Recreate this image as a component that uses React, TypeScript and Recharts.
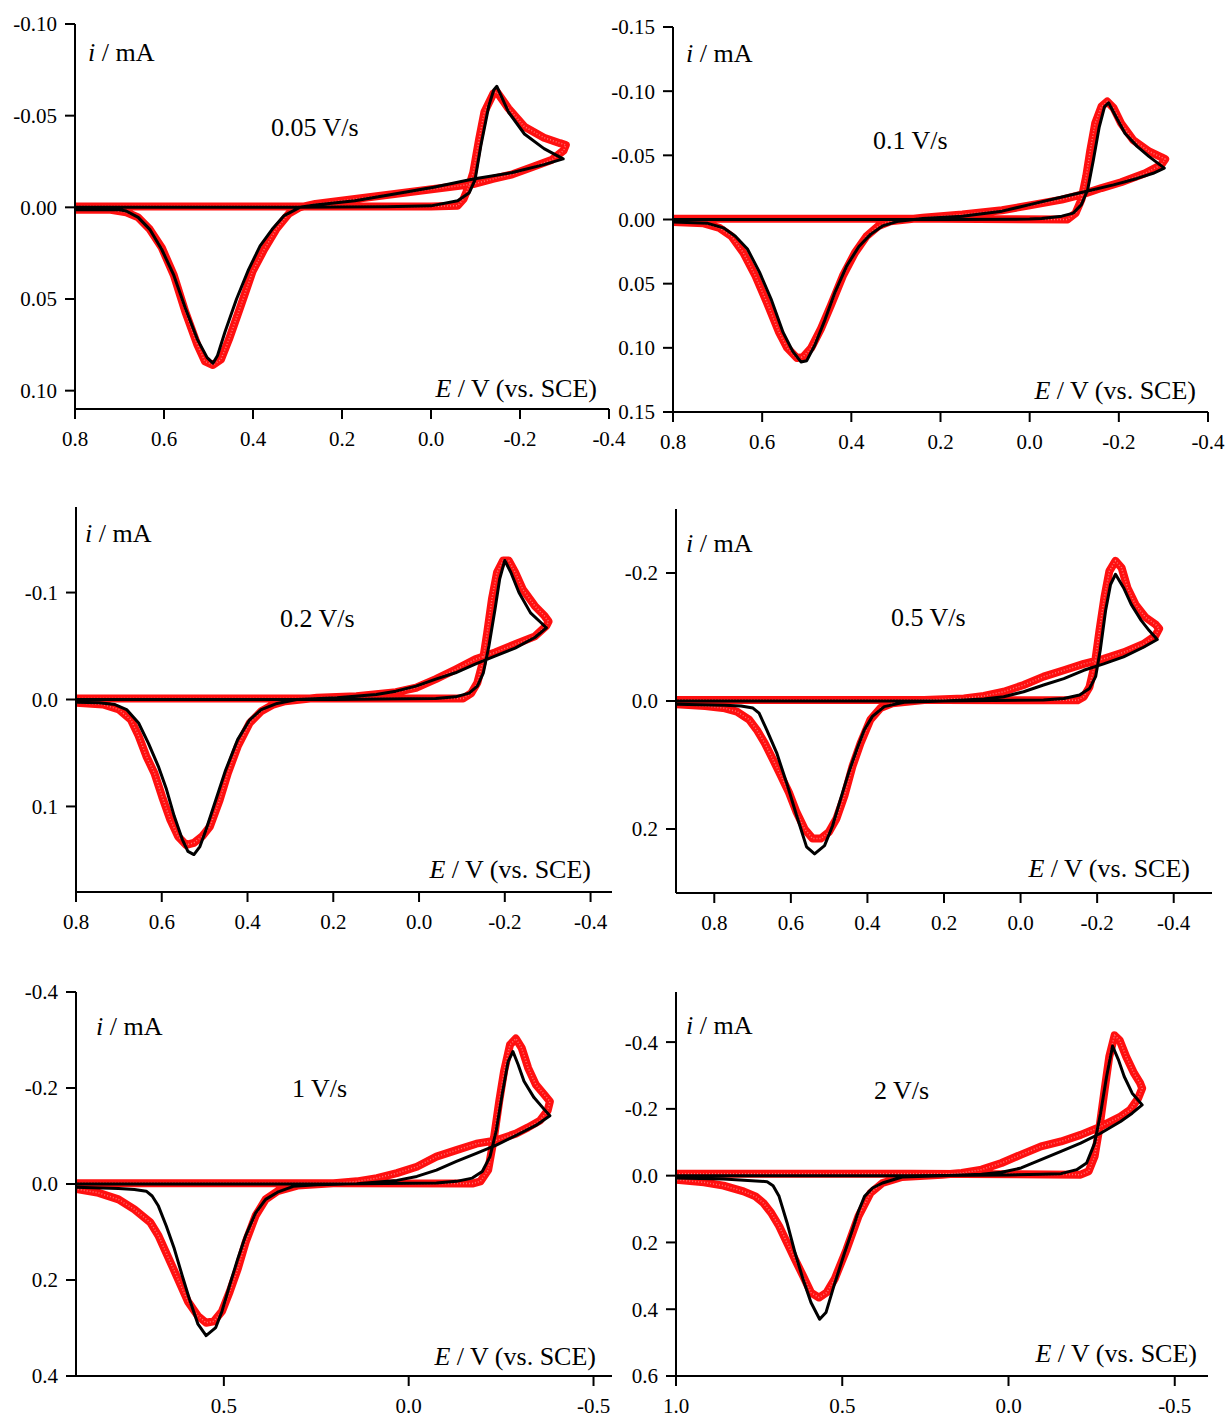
import React from "react";
import { ComposedChart, Line, XAxis, YAxis } from "recharts";

type Pair = [number, number];

// [E / V, i / mA]; each loop runs cathodic sweep then back
const sim005: Pair[] = [
  [0.8, 0], [0.3, 0], [0.1, -0.0003], [0.0, -0.0008], [-0.06, -0.0036], [-0.086, -0.008],
  [-0.099, -0.015], [-0.112, -0.0336], [-0.13, -0.0555], [-0.141, -0.064], [-0.148, -0.066],
  [-0.174, -0.052], [-0.21, -0.04], [-0.254, -0.032], [-0.297, -0.0264], [-0.254, -0.0233],
  [-0.183, -0.019], [-0.095, -0.0155], [-0.006, -0.011], [0.082, -0.0073], [0.171, -0.0036],
  [0.26, -0.0013], [0.295, 0], [0.33, 0.0045], [0.357, 0.012], [0.384, 0.021], [0.41, 0.034],
  [0.437, 0.05], [0.463, 0.068], [0.48, 0.081], [0.49, 0.085], [0.503, 0.082], [0.525, 0.072],
  [0.552, 0.055], [0.578, 0.037], [0.605, 0.023], [0.632, 0.012], [0.658, 0.0055], [0.685, 0.002],
  [0.7, 0.0013], [0.8, 0.0013],
];
const exp005: Pair[] = [
  [0.8, -0.0005], [0.3, -0.0005], [0.0, -0.0005], [-0.06, -0.0009], [-0.073, -0.0045],
  [-0.086, -0.012], [-0.095, -0.019], [-0.108, -0.037], [-0.12, -0.052], [-0.14, -0.062],
  [-0.148, -0.063], [-0.174, -0.054], [-0.21, -0.044], [-0.254, -0.038], [-0.29, -0.035],
  [-0.303, -0.034], [-0.298, -0.031], [-0.272, -0.026], [-0.228, -0.022], [-0.183, -0.018],
  [-0.139, -0.0155], [-0.095, -0.0127], [-0.006, -0.01], [0.082, -0.0073], [0.171, -0.0045],
  [0.26, -0.0018], [0.295, 0], [0.32, 0.0036], [0.348, 0.012], [0.375, 0.023], [0.401, 0.035],
  [0.428, 0.054], [0.454, 0.072], [0.472, 0.083], [0.49, 0.086], [0.508, 0.084], [0.525, 0.075],
  [0.552, 0.057], [0.578, 0.037], [0.605, 0.022], [0.632, 0.012], [0.658, 0.0055], [0.685, 0.0027],
  [0.72, 0.0013], [0.8, 0.0013],
];

const sim01: Pair[] = [
  [0.8, 0], [0.2, 0], [0.0, -0.0003], [-0.027, -0.0008], [-0.072, -0.0026], [-0.098, -0.005],
  [-0.116, -0.0116], [-0.13, -0.023], [-0.143, -0.0465], [-0.156, -0.072], [-0.168, -0.088],
  [-0.177, -0.091], [-0.192, -0.081], [-0.214, -0.067], [-0.241, -0.057], [-0.268, -0.049],
  [-0.302, -0.04], [-0.277, -0.036], [-0.241, -0.032], [-0.188, -0.027], [-0.116, -0.021],
  [-0.063, -0.0168], [0.0, -0.0116], [0.062, -0.0065], [0.151, -0.0026], [0.24, -0.0008],
  [0.294, 0.0013], [0.33, 0.005], [0.357, 0.0116], [0.383, 0.021], [0.41, 0.036], [0.437, 0.057],
  [0.459, 0.078], [0.482, 0.098], [0.5, 0.11], [0.513, 0.111], [0.531, 0.103], [0.553, 0.088],
  [0.58, 0.062], [0.606, 0.041], [0.633, 0.023], [0.66, 0.013], [0.687, 0.0065], [0.722, 0.003],
  [0.8, 0.002],
];
const exp01: Pair[] = [
  [0.8, -0.0005], [0.2, -0.0005], [-0.085, 0], [-0.103, -0.005], [-0.116, -0.0155],
  [-0.127, -0.034], [-0.136, -0.054], [-0.147, -0.075], [-0.161, -0.088], [-0.174, -0.092],
  [-0.188, -0.087], [-0.205, -0.075], [-0.232, -0.062], [-0.268, -0.053], [-0.295, -0.0486],
  [-0.304, -0.047], [-0.295, -0.0426], [-0.259, -0.036], [-0.205, -0.029], [-0.161, -0.0245],
  [-0.116, -0.0194], [-0.072, -0.0155], [0.0, -0.011], [0.062, -0.0072], [0.151, -0.0039],
  [0.24, -0.0013], [0.312, 0.0013], [0.339, 0.005], [0.366, 0.013], [0.392, 0.026], [0.419, 0.044],
  [0.446, 0.067], [0.468, 0.085], [0.49, 0.1], [0.508, 0.107], [0.522, 0.108], [0.544, 0.1],
  [0.562, 0.088], [0.589, 0.065], [0.615, 0.044], [0.642, 0.026], [0.669, 0.013], [0.696, 0.0065],
  [0.731, 0.003], [0.8, 0.002],
];

const sim02: Pair[] = [
  [0.8, 0], [0.2, 0], [-0.039, -0.001], [-0.085, -0.0025], [-0.117, -0.006], [-0.136, -0.0125],
  [-0.15, -0.025], [-0.163, -0.05], [-0.177, -0.084], [-0.188, -0.1125], [-0.2, -0.13],
  [-0.214, -0.119], [-0.233, -0.1], [-0.26, -0.081], [-0.284, -0.072], [-0.297, -0.067],
  [-0.27, -0.058], [-0.224, -0.048], [-0.177, -0.0406], [-0.131, -0.033], [-0.085, -0.025],
  [-0.039, -0.019], [0.007, -0.0125], [0.054, -0.0078], [0.1, -0.0047], [0.192, -0.0016],
  [0.285, 0], [0.331, 0.0037], [0.368, 0.0094], [0.395, 0.019], [0.423, 0.0375], [0.451, 0.066],
  [0.474, 0.094], [0.497, 0.122], [0.511, 0.1375], [0.525, 0.145], [0.539, 0.142], [0.552, 0.131],
  [0.571, 0.109], [0.589, 0.084], [0.608, 0.0625], [0.631, 0.041], [0.654, 0.022], [0.682, 0.0094],
  [0.709, 0.0047], [0.746, 0.003], [0.8, 0.0025],
];
const exp02: Pair[] = [
  [0.8, -0.001], [0.2, -0.001], [-0.103, -0.001], [-0.122, -0.006], [-0.136, -0.0156],
  [-0.148, -0.034], [-0.159, -0.0625], [-0.17, -0.094], [-0.182, -0.119], [-0.196, -0.13],
  [-0.209, -0.13], [-0.224, -0.119], [-0.242, -0.103], [-0.27, -0.0875], [-0.293, -0.078],
  [-0.302, -0.073], [-0.297, -0.069], [-0.27, -0.059], [-0.224, -0.0516], [-0.177, -0.044],
  [-0.131, -0.0375], [-0.085, -0.028], [-0.039, -0.019], [0.007, -0.011], [0.054, -0.0069],
  [0.146, -0.0031], [0.238, -0.0016], [0.312, 0.0016], [0.34, 0.0047], [0.368, 0.011],
  [0.395, 0.022], [0.423, 0.044], [0.446, 0.069], [0.465, 0.094], [0.488, 0.119], [0.506, 0.128],
  [0.525, 0.134], [0.543, 0.136], [0.562, 0.128], [0.58, 0.1125], [0.599, 0.091], [0.617, 0.069],
  [0.636, 0.053], [0.654, 0.034], [0.672, 0.019], [0.7, 0.0094], [0.737, 0.0047], [0.8, 0.003],
];

const sim05: Pair[] = [
  [0.9, 0], [0.2, 0], [-0.06, -0.0015], [-0.113, -0.004], [-0.154, -0.0093], [-0.18, -0.0196],
  [-0.196, -0.038], [-0.208, -0.079], [-0.222, -0.141], [-0.235, -0.182], [-0.248, -0.198],
  [-0.269, -0.177], [-0.289, -0.151], [-0.315, -0.126], [-0.336, -0.11], [-0.357, -0.096],
  [-0.321, -0.084], [-0.269, -0.069], [-0.217, -0.058], [-0.165, -0.048], [-0.113, -0.035],
  [-0.06, -0.025], [-0.008, -0.0145], [0.044, -0.0067], [0.096, -0.003], [0.2, 0], [0.304, 0.002],
  [0.356, 0.0088], [0.387, 0.024], [0.408, 0.045], [0.428, 0.076], [0.449, 0.112], [0.47, 0.153],
  [0.491, 0.195], [0.512, 0.226], [0.538, 0.239], [0.559, 0.228], [0.585, 0.179], [0.611, 0.128],
  [0.637, 0.081], [0.663, 0.045], [0.683, 0.019], [0.699, 0.011], [0.73, 0.0078], [0.772, 0.0067],
  [0.9, 0.005],
];
const exp05: Pair[] = [
  [0.9, -0.0015], [0.2, -0.0015], [-0.149, -0.001], [-0.165, -0.0067], [-0.18, -0.022],
  [-0.194, -0.058], [-0.206, -0.11], [-0.219, -0.162], [-0.232, -0.203], [-0.248, -0.219],
  [-0.264, -0.208], [-0.279, -0.177], [-0.3, -0.151], [-0.326, -0.131], [-0.352, -0.12],
  [-0.362, -0.113], [-0.352, -0.102], [-0.321, -0.089], [-0.269, -0.076], [-0.217, -0.066],
  [-0.165, -0.058], [-0.113, -0.048], [-0.06, -0.038], [-0.008, -0.025], [0.044, -0.0145],
  [0.096, -0.0078], [0.148, -0.004], [0.252, -0.0016], [0.335, 0.0036], [0.366, 0.011],
  [0.392, 0.029], [0.418, 0.066], [0.439, 0.102], [0.46, 0.148], [0.481, 0.184], [0.501, 0.205],
  [0.522, 0.215], [0.543, 0.215], [0.564, 0.2], [0.585, 0.174], [0.605, 0.143], [0.626, 0.117],
  [0.647, 0.091], [0.668, 0.066], [0.689, 0.045], [0.709, 0.029], [0.741, 0.0165], [0.772, 0.0114],
  [0.824, 0.0078], [0.9, 0.005],
];

const sim1: Pair[] = [
  [0.9, 0], [0.2, 0], [-0.075, -0.002], [-0.129, -0.0055], [-0.172, -0.0123], [-0.199, -0.026],
  [-0.22, -0.057], [-0.237, -0.112], [-0.253, -0.187], [-0.269, -0.255], [-0.282, -0.276],
  [-0.296, -0.249], [-0.312, -0.214], [-0.339, -0.18], [-0.366, -0.156], [-0.382, -0.142],
  [-0.344, -0.122], [-0.29, -0.101], [-0.237, -0.081], [-0.183, -0.064], [-0.129, -0.047],
  [-0.075, -0.029], [-0.022, -0.0158], [0.032, -0.0075], [0.14, -0.0007], [0.247, 0.0014],
  [0.312, 0.0048], [0.355, 0.017], [0.387, 0.032], [0.414, 0.06], [0.441, 0.1075], [0.462, 0.155],
  [0.484, 0.21], [0.505, 0.265], [0.522, 0.299], [0.548, 0.316], [0.57, 0.292], [0.591, 0.245],
  [0.613, 0.19], [0.634, 0.135], [0.656, 0.087], [0.677, 0.046], [0.694, 0.025], [0.71, 0.015],
  [0.742, 0.0116], [0.785, 0.0096], [0.9, 0.0068],
];
const exp1: Pair[] = [
  [0.9, -0.0015], [0.2, -0.0015], [-0.172, -0.001], [-0.194, -0.0055], [-0.215, -0.029],
  [-0.231, -0.098], [-0.245, -0.173], [-0.258, -0.235], [-0.274, -0.29], [-0.29, -0.303],
  [-0.306, -0.283], [-0.323, -0.242], [-0.344, -0.207], [-0.366, -0.187], [-0.382, -0.172],
  [-0.376, -0.153], [-0.355, -0.132], [-0.323, -0.118], [-0.29, -0.105], [-0.237, -0.091],
  [-0.183, -0.084], [-0.129, -0.0705], [-0.075, -0.057], [-0.022, -0.036], [0.032, -0.0226],
  [0.086, -0.0123], [0.14, -0.0055], [0.194, -0.002], [0.301, 0.0034], [0.355, 0.015],
  [0.387, 0.032], [0.414, 0.066], [0.441, 0.121], [0.462, 0.176], [0.484, 0.224], [0.505, 0.265],
  [0.527, 0.286], [0.548, 0.289], [0.57, 0.275], [0.597, 0.245], [0.637, 0.176], [0.677, 0.1075],
  [0.699, 0.08], [0.742, 0.053], [0.785, 0.032], [0.839, 0.0185], [0.9, 0.0103],
];

const sim2: Pair[] = [
  [1.0, 0], [0.3, 0], [0.0, -0.002], [-0.1, -0.004], [-0.158, -0.006], [-0.205, -0.018],
  [-0.235, -0.038], [-0.259, -0.0975], [-0.277, -0.187], [-0.295, -0.297], [-0.313, -0.388],
  [-0.331, -0.346], [-0.348, -0.297], [-0.372, -0.247], [-0.402, -0.212], [-0.372, -0.187],
  [-0.337, -0.162], [-0.277, -0.127], [-0.217, -0.0975], [-0.158, -0.0726], [-0.098, -0.048],
  [-0.038, -0.023], [0.021, -0.01], [0.081, -0.004], [0.2, 0], [0.32, 0.004], [0.379, 0.022],
  [0.409, 0.037], [0.433, 0.062], [0.451, 0.106], [0.469, 0.161], [0.493, 0.231], [0.525, 0.33],
  [0.549, 0.41], [0.568, 0.43], [0.594, 0.38], [0.618, 0.31], [0.642, 0.231], [0.666, 0.141],
  [0.69, 0.062], [0.708, 0.03], [0.726, 0.018], [0.857, 0.01], [1.0, 0.007],
];
const exp2: Pair[] = [
  [1.0, -0.006], [0.3, -0.006], [-0.217, -0.003], [-0.241, -0.013], [-0.259, -0.058],
  [-0.274, -0.147], [-0.289, -0.257], [-0.303, -0.356], [-0.319, -0.42], [-0.334, -0.406],
  [-0.354, -0.356], [-0.378, -0.306], [-0.396, -0.277], [-0.402, -0.262], [-0.39, -0.232],
  [-0.366, -0.197], [-0.337, -0.177], [-0.277, -0.147], [-0.217, -0.122], [-0.158, -0.1025],
  [-0.098, -0.0876], [-0.038, -0.063], [0.021, -0.038], [0.081, -0.018], [0.141, -0.008],
  [0.2, -0.003], [0.32, 0.004], [0.379, 0.022], [0.415, 0.052], [0.451, 0.121], [0.487, 0.221],
  [0.523, 0.31], [0.547, 0.35], [0.57, 0.365], [0.594, 0.35], [0.618, 0.3], [0.642, 0.251],
  [0.666, 0.201], [0.69, 0.151], [0.714, 0.111], [0.737, 0.082], [0.761, 0.062], [0.797, 0.047],
  [0.857, 0.03], [0.916, 0.02], [1.0, 0.012],
];

const rateLabels = ["0.05 V/s", "0.1 V/s", "0.2 V/s", "0.5 V/s", "1 V/s", "2 V/s"];

const xTicksA = [0.8, 0.6, 0.4, 0.2, 0.0, -0.2, -0.4];
const xTicks1 = [0.5, 0.0, -0.5];
const xTicks2 = [1.0, 0.5, 0.0, -0.5];
const yTicks005 = [-0.1, -0.05, 0, 0.05, 0.1];
const yTicks01 = [-0.15, -0.1, -0.05, 0, 0.05, 0.1, 0.15];
const yTicks02 = [-0.1, 0, 0.1];
const yTicks05 = [-0.2, 0, 0.2];
const yTicks1 = [-0.4, -0.2, 0, 0.2, 0.4];
const yTicks2 = [-0.4, -0.2, 0, 0.2, 0.4, 0.6];

const FONT = "'Liberation Serif', 'Times New Roman', serif";
const YW = 70;
const MT = 20;
const MR = 25;
const XH = 45;

type Spec = {
  box: [number, number, number, number]; // plot left, top, right, bottom on the page
  xDomain: [number, number];
  yDomain: [number, number];
  xTicks: number[];
  yTicks: number[];
  xDigits: number;
  yDigits: number;
  sim: Pair[];
  exp: Pair[];
  rate: string;
  iPos: [number, number];
  ratePos: [number, number];
  ePos: [number, number]; // right edge, top
};

const panels: Spec[] = [
  {
    box: [75, 24, 609, 409], xDomain: [-0.4, 0.8], yDomain: [-0.1, 0.11],
    xTicks: xTicksA, yTicks: yTicks005, xDigits: 1, yDigits: 2, sim: sim005, exp: exp005,
    rate: rateLabels[0], iPos: [88, 40], ratePos: [271, 115], ePos: [597, 376],
  },
  {
    box: [673, 27, 1208, 412], xDomain: [-0.4, 0.8], yDomain: [-0.15, 0.15],
    xTicks: xTicksA, yTicks: yTicks01, xDigits: 1, yDigits: 2, sim: sim01, exp: exp01,
    rate: rateLabels[1], iPos: [686, 41], ratePos: [873, 128], ePos: [1196, 378],
  },
  {
    box: [76, 507, 612, 892], xDomain: [-0.45, 0.8], yDomain: [-0.18, 0.18],
    xTicks: xTicksA, yTicks: yTicks02, xDigits: 1, yDigits: 1, sim: sim02, exp: exp02,
    rate: rateLabels[2], iPos: [85, 521], ratePos: [280, 606], ePos: [591, 857],
  },
  {
    box: [676, 509, 1212, 893], xDomain: [-0.5, 0.9], yDomain: [-0.3, 0.3],
    xTicks: xTicksA, yTicks: yTicks05, xDigits: 1, yDigits: 1, sim: sim05, exp: exp05,
    rate: rateLabels[3], iPos: [686, 531], ratePos: [891, 605], ePos: [1190, 856],
  },
  {
    box: [76, 992, 612, 1376], xDomain: [-0.55, 0.9], yDomain: [-0.4, 0.4],
    xTicks: xTicks1, yTicks: yTicks1, xDigits: 1, yDigits: 1, sim: sim1, exp: exp1,
    rate: rateLabels[4], iPos: [96, 1014], ratePos: [292, 1076], ePos: [596, 1344],
  },
  {
    box: [676, 992, 1208, 1376], xDomain: [-0.6, 1.0], yDomain: [-0.55, 0.6],
    xTicks: xTicks2, yTicks: yTicks2, xDigits: 1, yDigits: 1, sim: sim2, exp: exp2,
    rate: rateLabels[5], iPos: [686, 1013], ratePos: [874, 1078], ePos: [1197, 1341],
  },
];

const toRows = (pts: Pair[]) => pts.map(([e, i]) => ({ e, i }));

const tickStyle = { fill: "#000", fontSize: 21, fontFamily: FONT };
const axisStroke = { stroke: "#000", strokeWidth: 2 };

function Panel({ spec }: { spec: Spec }) {
  const [x0, y0, x1, y1] = spec.box;
  const width = x1 - x0 + YW + MR;
  const height = y1 - y0 + MT + XH;
  return (
    <div style={{ position: "absolute", left: x0 - YW, top: y0 - MT, width, height }}>
      <ComposedChart width={width} height={height} margin={{ top: MT, right: MR, bottom: 0, left: 0 }}>
        <XAxis
          type="number"
          dataKey="e"
          domain={spec.xDomain}
          reversed
          allowDataOverflow
          ticks={spec.xTicks}
          interval={0}
          tickFormatter={(v: number) => v.toFixed(spec.xDigits)}
          tick={tickStyle}
          tickSize={10}
          tickMargin={12}
          height={XH}
          axisLine={axisStroke}
          tickLine={axisStroke}
        />
        <YAxis
          type="number"
          domain={spec.yDomain}
          reversed
          allowDataOverflow
          ticks={spec.yTicks}
          interval={0}
          tickFormatter={(v: number) => v.toFixed(spec.yDigits)}
          tick={tickStyle}
          tickSize={10}
          tickMargin={8}
          width={YW}
          axisLine={axisStroke}
          tickLine={axisStroke}
        />
        <Line
          data={toRows(spec.exp)}
          dataKey="i"
          type="linear"
          stroke="#ff1010"
          strokeWidth={8}
          strokeLinejoin="round"
          strokeLinecap="round"
          dot={false}
          isAnimationActive={false}
        />
        <Line
          data={toRows(spec.exp)}
          dataKey="i"
          type="linear"
          stroke="#ff9a9a"
          strokeWidth={1.5}
          strokeDasharray="1 2"
          strokeOpacity={0.7}
          dot={false}
          isAnimationActive={false}
        />
        <Line
          data={toRows(spec.sim)}
          dataKey="i"
          type="linear"
          stroke="#000"
          strokeWidth={3}
          strokeLinejoin="round"
          dot={false}
          isAnimationActive={false}
        />
      </ComposedChart>
    </div>
  );
}

const textStyle: React.CSSProperties = {
  position: "absolute",
  fontFamily: FONT,
  fontSize: 26,
  lineHeight: "26px",
  color: "#000",
  whiteSpace: "nowrap",
};

export default function App() {
  return (
    <div style={{ position: "absolute", left: 0, top: 0, width: 1229, height: 1418, background: "#fff" }}>
      {panels.map((p, k) => (
        <Panel key={k} spec={p} />
      ))}
      {panels.map((p, k) => (
        <React.Fragment key={`t${k}`}>
          <div style={{ ...textStyle, left: p.iPos[0], top: p.iPos[1] }}>
            <i>i</i> / mA
          </div>
          <div style={{ ...textStyle, left: p.ratePos[0], top: p.ratePos[1] }}>{p.rate}</div>
          <div style={{ ...textStyle, right: 1229 - p.ePos[0], top: p.ePos[1] }}>
            <i>E</i> / V (vs. SCE)
          </div>
        </React.Fragment>
      ))}
    </div>
  );
}
